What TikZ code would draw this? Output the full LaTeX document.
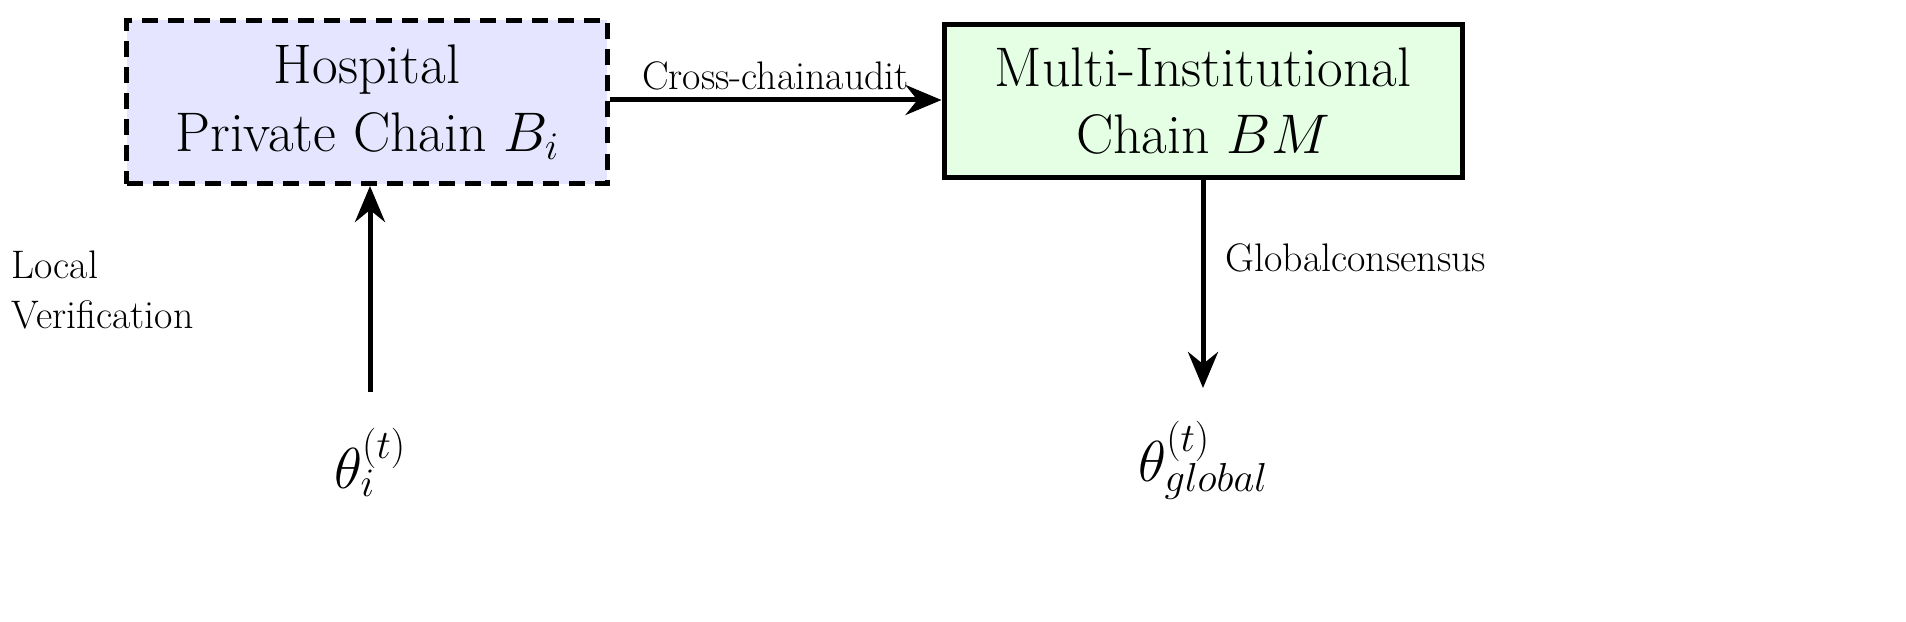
\RequirePackage{fix-cm}
\documentclass[tikz,border=0pt]{standalone}
\usetikzlibrary{arrows.meta}
\begin{document}
\begin{tikzpicture}[x=1bp,y=-1bp,
  big/.style={font=\fontsize{56}{68}\selectfont,align=center},
  lab/.style={font=\fontsize{40}{50}\selectfont},
  arr/.style={line width=5bp,-{Stealth[length=36bp,width=30bp,inset=12bp]}}]
\useasboundingbox (0,0) rectangle (1906,622);
\node[big,draw,dashed,dash pattern=on 16bp off 10bp,line width=5bp,fill=blue!10,minimum width=480bp,minimum height=163bp] (h) at (367,102) {Hospital\\Private Chain $B_i$};
\node[big,draw,line width=5bp,fill=green!10,minimum width=518bp,minimum height=153bp] (m) at (1203,101) {Multi-Institutional\\Chain $BM$};
\node[font=\fontsize{58}{68}\selectfont] (ti) at (370,462) {$\theta_i^{(t)}$};
\node[font=\fontsize{58}{68}\selectfont] (tg) at (1203,460) {$\theta_{global}^{(t)}$};
\draw[arr] (h.east|-0,100) -- (m.west|-0,100) node[midway,above=4bp,lab] (c) {Cross-chainaudit};
\draw[arr] (370,392) -- (h.south-|370,0);
\draw[arr] (m.south-|1203,0) -- (1203,388);
\node[lab,align=left,anchor=west] (lv) at (8,290) {Local\\Verification};
\node[lab,anchor=west] (gc) at (1222,258) {Globalconsensus};
\end{tikzpicture}
\end{document}
